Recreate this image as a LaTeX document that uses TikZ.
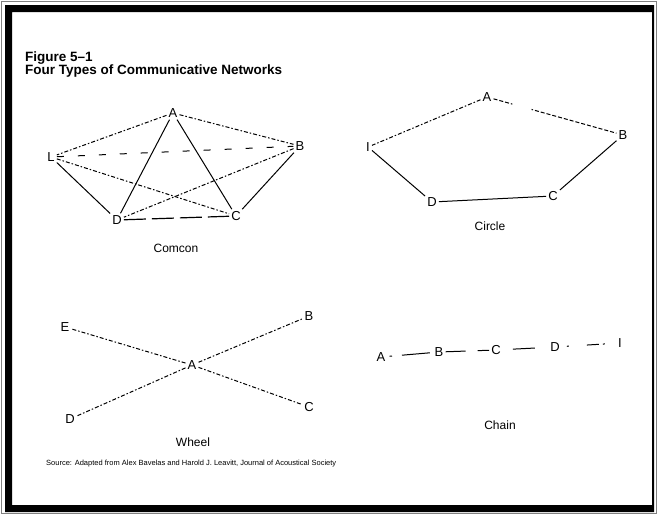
\documentclass[tikz,border=0pt]{standalone}
\usepackage{fontspec}
\setmainfont{Liberation Sans}
\begin{document}
\begin{tikzpicture}[x=1pt,y=-1pt,
  lbl/.style={font=\fontsize{13}{13}\selectfont, inner sep=2pt},
  captext/.style={font=\fontsize{12}{12}\selectfont, inner sep=0pt},
  edge/.style={line width=1pt},
  dsh/.style={line width=1pt, dash pattern=on 4pt off 2pt on 1.5pt off 2pt},
  sparse/.style={line width=1pt, dash pattern=on 7pt off 14pt},
  longd/.style={line width=1.2pt, dash pattern=on 22pt off 6pt},
  chainline/.style={line width=1pt}]
\useasboundingbox (0,0) rectangle (658,515);
% frame
\draw[gray, line width=1pt] (1.5,1.5) rectangle (656.5,513.5);
\fill[black, even odd rule] (5,5) rectangle (654,512) (12,12) rectangle (652,505);
% title
\node[anchor=base west, inner sep=0pt, font=\fontsize{13.5}{13.5}\selectfont\bfseries] (t1) at (25,61) {Figure 5–1};
\node[anchor=base west, inner sep=0pt, font=\fontsize{13.5}{13.5}\selectfont\bfseries] (t2) at (25,74) {Four Types of Communicative Networks};
% Comcon
\node[lbl] (cA) at (173,113) {A};
\node[lbl] (cB) at (300,146) {B};
\node[lbl] (cL) at (51,157) {L};
\node[lbl] (cD) at (117,220) {D};
\node[lbl] (cC) at (236,216) {C};
\draw[dsh] (cA) -- (cL);
\draw[dsh] (cA) -- (cB);
\draw[sparse] (cL) -- (cB);
\draw[dsh] (cL) -- (cC);
\draw[dsh] (cB) -- (cD);
\draw[edge] (cL) -- (cD);
\draw[edge] (cA) -- (cD);
\draw[edge] (cA) -- (cC);
\draw[edge] (cB) -- (cC);
\draw[longd] (cD) -- (cC);
\node[captext] (capc) at (176,248) {Comcon};
% Circle
\node[lbl] (rA) at (487,97) {A};
\node[lbl] (rB) at (623,135) {B};
\node[lbl] (rI) at (368,147) {I};
\node[lbl] (rD) at (432,202) {D};
\node[lbl] (rC) at (553,196) {C};
\draw[dsh] (rA) -- (rI);
\draw[line width=1pt, dash pattern=on 4pt off 2pt on 4pt off 2pt on 4pt off 2pt on 1.5pt off 20pt on 1.5pt off 2pt on 4pt off 2pt on 4pt off 2pt on 4pt off 2pt on 4pt off 2pt on 4pt off 2pt on 4pt off 2pt on 4pt off 2pt on 4pt off 2pt on 4pt off 2pt on 4pt off 2pt on 4pt off 2pt on 4pt off 2pt on 4pt off 2pt on 4pt off 2pt on 4pt off 100pt] (rA) -- (rB);
\draw[edge] (rI) -- (rD);
\draw[edge] (rD) -- (rC);
\draw[edge] (rC) -- (rB);
\node[captext] (capr) at (490,226) {Circle};
% Wheel
\node[lbl] (wA) at (192,365) {A};
\node[lbl] (wB) at (309,316) {B};
\node[lbl] (wE) at (65,327) {E};
\node[lbl] (wD) at (70,419) {D};
\node[lbl] (wC) at (309,407) {C};
\draw[dsh] (wA) -- (wE);
\draw[dsh] (wA) -- (wB);
\draw[dsh] (wA) -- (wD);
\draw[dsh] (wA) -- (wC);
\node[captext] (capw) at (193,442) {Wheel};
\node[anchor=west, inner sep=0pt, font=\fontsize{7.5}{7.5}\selectfont] (src) at (46,464) {Source: Adapted from Alex Bavelas and Harold J. Leavitt, Journal of Acoustical Society};
% Chain
\node[lbl] (hA) at (381,357) {A};
\node[lbl] (hB) at (439,352) {B};
\node[lbl] (hC) at (496,350) {C};
\node[lbl] (hD) at (555,347) {D};
\node[lbl] (hI) at (620,343) {I};
\draw[chainline, dash pattern=on 0pt off 2pt on 2.5pt off 10pt on 28pt off 100pt] (hA) -- (hB);
\draw[chainline, dash pattern=on 20pt off 12pt on 12pt off 100pt] (hB) -- (hC);
\draw[chainline, dash pattern=on 0pt off 10pt on 22pt off 100pt] (hC) -- (hD);
\draw[chainline, dash pattern=on 0pt off 5pt on 2pt off 18pt on 12pt off 4pt on 2pt off 100pt] (hD) -- (hI);
\node[captext] (caph) at (500,425) {Chain};
\end{tikzpicture}
\end{document}
